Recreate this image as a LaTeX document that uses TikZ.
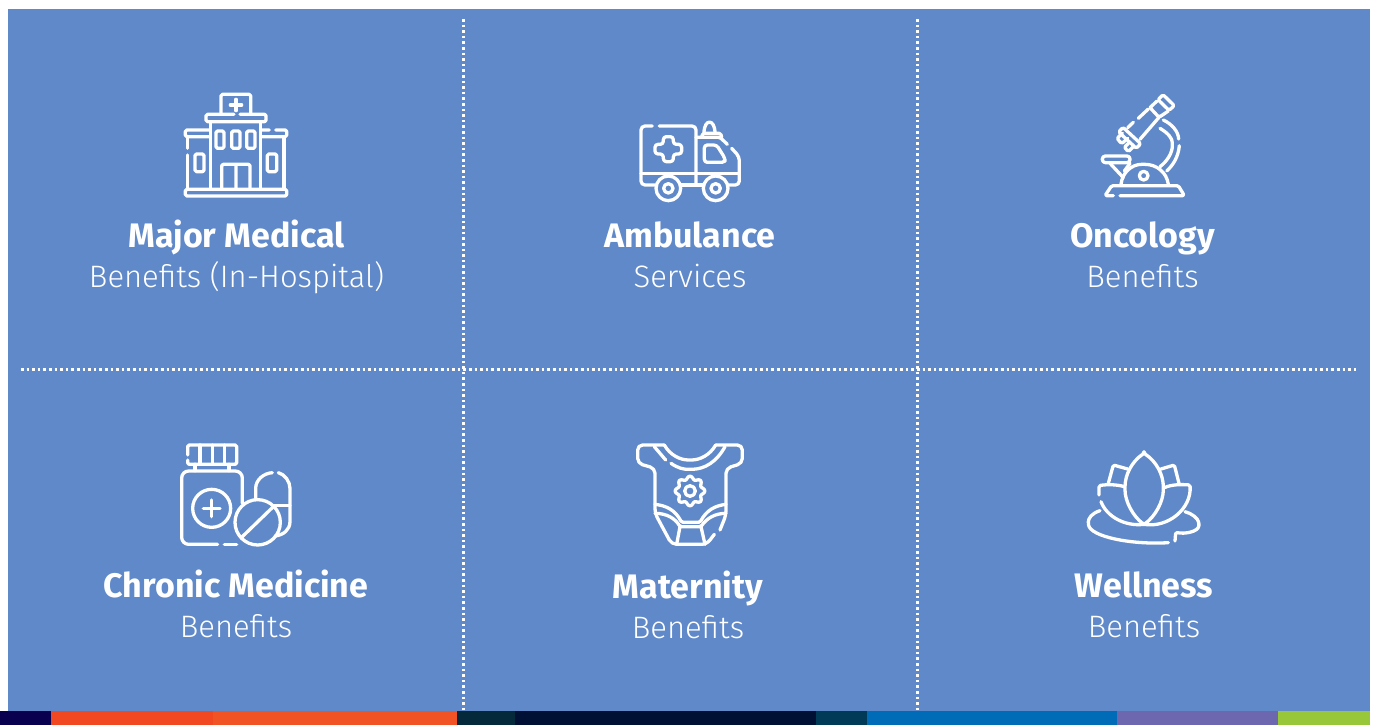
\documentclass[tikz,border=0pt]{standalone}
\usepackage{fontspec}
\setmainfont{Fira Sans}
\newfontfamily\lightf{Fira Sans Light}
\definecolor{bgblue}{HTML}{5F89C8}
\definecolor{s1}{HTML}{0A0050}
\definecolor{s2}{HTML}{F24822}
\definecolor{s3}{HTML}{F25324}
\definecolor{s4}{HTML}{03293B}
\definecolor{s5}{HTML}{001035}
\definecolor{s6}{HTML}{003A57}
\definecolor{s7}{HTML}{006CB8}
\definecolor{s8}{HTML}{6C67AE}
\definecolor{s9}{HTML}{98C83A}
\tikzset{
  x=1pt,y=-1pt,
  ico/.style={draw=white,line width=3.3pt,line cap=round,line join=round,rounded corners=1.5pt},
  dots/.style={draw=white,line width=2.6pt,dash pattern=on 2.6pt off 3pt},
  headtxt/.style={text=white,inner sep=0pt,anchor=base,font=\fontsize{34}{38}\selectfont\bfseries},
  subtxt/.style={text=white,inner sep=0pt,anchor=base,font=\fontsize{31}{36}\selectfont\lightf},
}
\begin{document}
\begin{tikzpicture}
\useasboundingbox (0,0) rectangle (1377,725);
\fill[white] (0,0) rectangle (1377,725);
\fill[bgblue] (8,9) rectangle (1370,711);
% bottom strip
\fill[s1] (0,711) rectangle (51,725);
\fill[s2] (51,711) rectangle (213,725);
\fill[s3] (213,711) rectangle (457,725);
\fill[s4] (457,711) rectangle (515,725);
\fill[s5] (515,711) rectangle (816,725);
\fill[s6] (816,711) rectangle (867,725);
\fill[s7] (867,711) rectangle (1117,725);
\fill[s8] (1117,711) rectangle (1278,725);
\fill[s9] (1278,711) rectangle (1370,725);
% dotted grid
\draw[dots] (463.5,19) -- (463.5,711);
\draw[dots] (917.5,19) -- (917.5,711);
\draw[dots] (21,369.5) -- (1358,369.5);
% labels
\node[headtxt] (h1) at (236.5,247) {Major Medical};
\node[subtxt] (t1) at (236.5,287) {Benefits (In-Hospital)};
\node[headtxt] (h2) at (690,247) {Ambulance};
\node[subtxt] (t2) at (690,287) {Services};
\node[headtxt] (h3) at (1142.5,247) {Oncology};
\node[subtxt] (t3) at (1142.5,287) {Benefits};
\node[headtxt] (h4) at (236,597) {Chronic Medicine};
\node[subtxt] (t4) at (236,637) {Benefits};
\node[headtxt] (h5) at (688,598) {Maternity};
\node[subtxt] (t5) at (688,638) {Benefits};
\node[headtxt] (h6) at (1144,597) {Wellness};
\node[subtxt] (t6) at (1144,637) {Benefits};
% hospital
\begin{scope}[shift={(160,80)},scale=1/3]
\draw[ico] (183,100) -- (183,43) -- (272,43) -- (272,100);
\draw[ico,rounded corners=0pt] (211,75) -- (245,75) (228,58) -- (228,92);
\draw[ico] (222,103) -- (138,103) -- (138,125) -- (318,125) -- (318,103) -- (240,103);
\draw[ico] (152,125) -- (152,328) (302,125) -- (302,328);
\draw[ico] (168,153) rectangle (192,205);
\draw[ico] (215,153) rectangle (240,205);
\draw[ico] (260,153) rectangle (285,205);
\draw[ico] (185,328) -- (185,253) -- (270,253) -- (270,328) (228,253) -- (228,328);
\draw[ico] (150,150) -- (76,150) -- (76,170) -- (150,170);
\draw[ico] (305,170) -- (380,170) -- (380,150) -- (347,150) (328,150) -- (305,150);
\draw[ico] (82,170) -- (82,205) (82,225) -- (82,328);
\draw[ico] (372,170) -- (372,328);
\draw[ico] (105,222) rectangle (132,275);
\draw[ico] (322,222) rectangle (350,275);
\draw[ico] (76,328) rectangle (380,348);
\end{scope}
% ambulance
\begin{scope}[shift={(620,105)},scale=1/3]
\draw[ico,rounded corners=4pt] (97,63) -- (63,63) -- (63,240) -- (105,240);
\draw[ico,rounded corners=4pt] (118,63) -- (228,63) -- (228,240);
\draw[ico] (63,205) -- (358,205);
\draw[ico] (185,240) -- (250,240);
\draw[ico,rounded corners=4pt] (325,240) -- (358,240) -- (358,155) -- (335,130);
\draw[ico] (228,97) -- (300,97) -- (322,118);
\draw[ico] (245,97) -- (248,85) -- (302,85) -- (305,97);
\draw[ico] (252,85) .. controls (252,40) and (285,40) .. (285,85);
\draw[ico,rounded corners=3pt] (253,120) -- (290,120) -- (315,160) -- (315,172) -- (253,172) -- cycle;
\draw[ico] (145,250) circle[radius=37];
\draw[ico] (145,250) circle[radius=14];
\draw[ico] (287,250) circle[radius=37];
\draw[ico] (287,250) circle[radius=14];
\draw[ico,rounded corners=3pt] (130,95) -- (160,95) -- (160,118) -- (185,118) -- (185,147) -- (160,147) -- (160,170) -- (130,170) -- (130,147) -- (105,147) -- (105,118) -- (130,118) -- cycle;
\end{scope}
% microscope
\begin{scope}[shift={(1085,85)},scale=1/3]
\draw[ico] (219,44) -- (234,29) -- (268,62) -- (252,76) -- cycle;
\draw[ico] (195,68) -- (216,48) (250,78) -- (222,97) -- (195,68);
\draw[ico] (190,72) -- (160,100) (145,112) -- (128,128);
\draw[ico] (222,97) -- (165,163);
\draw[ico] (114,127) -- (167,176) -- (154,190) -- (101,141) -- cycle;
\draw[ico] (112,145) -- (96,160) -- (110,176) -- (128,160);
\draw[ico] (130,175) -- (118,187) -- (130,200) -- (143,187);
\draw[ico] (235,105) .. controls (262,118) and (280,140) .. (281,162);
\draw[ico] (283,182) .. controls (280,215) and (265,240) .. (245,258);
\draw[ico] (225,130) .. controls (250,145) and (262,160) .. (262,178) .. controls (262,205) and (245,230) .. (225,245);
\draw[ico] (108,298) .. controls (112,262) and (140,238) .. (175,238) .. controls (215,238) and (245,262) .. (250,298);
\draw[ico] (176,272) circle[radius=13];
\draw[ico] (108,302) -- (80,302) -- (60,332) -- (85,332) (105,332) -- (298,332) -- (280,302) -- (108,302);
\draw[ico,rounded corners=3pt] (52,213) rectangle (135,233);
\draw[ico] (75,235) -- (115,278) (135,235) -- (118,258);
\end{scope}
% chronic medicine
\begin{scope}[shift={(165,435)},scale=1/3]
\draw[ico] (68,60) -- (68,30) -- (215,30) -- (215,88) -- (68,88) -- (68,75);
\draw[ico] (105,30) -- (105,88) (142,30) -- (142,88) (178,30) -- (178,88);
\draw[ico] (90,88) -- (90,107) (192,88) -- (192,107);
\draw[ico,rounded corners=7pt] (232,205) -- (232,108) -- (50,108) -- (50,328) -- (158,328);
\draw[ico] (178,328) -- (215,328);
\draw[ico] (140,220) circle[radius=57];
\draw[ico,rounded corners=0pt] (115,220) -- (165,220) (140,195) -- (140,245);
\draw[ico] (272,190) -- (272,165) .. controls (272,135) and (295,115) .. (322,113);
\draw[ico] (340,113) .. controls (360,118) and (375,140) .. (375,165) -- (375,255) .. controls (375,285) and (355,300) .. (330,303);
\draw[ico] (325,212) -- (375,212);
\draw[ico] (278,262) circle[radius=68];
\draw[ico] (232,305) -- (325,215);
\end{scope}
% maternity
\begin{scope}[shift={(625,435)},scale=1/3]
\draw[ico,rounded corners=5pt] (118,30) -- (38,30) -- (38,85) -- (90,100) -- (90,235) -- (140,328) -- (245,328) -- (268,298);
\draw[ico,rounded corners=5pt] (285,285) -- (303,240) -- (303,100) -- (352,85) -- (352,30) -- (272,30);
\draw[ico] (118,30) .. controls (135,60) and (165,75) .. (195,75) .. controls (225,75) and (255,60) .. (272,30);
\draw[ico] (88,35) -- (122,75);
\draw[ico] (138,85) .. controls (160,100) and (175,103) .. (195,103) .. controls (240,103) and (275,80) .. (300,35);
\draw[ico,rounded corners=0pt] plot[smooth cycle,domain=0:352.5,samples=48] ({195+(40+5*cos(8*\x))*cos(\x)},{168+(40+5*cos(8*\x))*sin(\x)});
\draw[ico] (195,168) circle[radius=16];
\draw[ico] (90,208) .. controls (125,212) and (150,225) .. (170,262) -- (225,262) .. controls (245,225) and (270,212) .. (303,208);
\draw[ico] (90,235) .. controls (125,235) and (150,250) .. (165,275) -- (228,275) .. controls (245,250) and (270,235) .. (303,235);
\draw[ico] (165,275) -- (155,328) (228,275) -- (240,328);
\end{scope}
% lotus
\begin{scope}[shift={(1075,445)},scale=1/3]
\draw[ico] (207,25) .. controls (170,50) and (150,90) .. (150,130) .. controls (150,170) and (175,215) .. (207,238) .. controls (240,215) and (265,170) .. (265,130) .. controls (265,90) and (245,50) .. (207,25) -- cycle;
\draw[ico] (100,115) -- (115,60) -- (158,72);
\draw[ico] (312,115) -- (298,60) -- (258,72);
\draw[ico] (148,125) .. controls (125,118) and (95,118) .. (72,122) -- (72,150);
\draw[ico] (78,170) .. controls (95,215) and (150,245) .. (207,238);
\draw[ico] (268,128) .. controls (290,118) and (320,118) .. (345,120) .. controls (350,190) and (280,250) .. (207,238);
\draw[ico] (75,197) .. controls (50,205) and (40,220) .. (40,235) .. controls (45,275) and (170,300) .. (280,293);
\draw[ico] (300,288) -- (302,262) .. controls (330,268) and (370,260) .. (372,238) .. controls (370,220) and (350,205) .. (330,200);
\end{scope}
\end{tikzpicture}
\end{document}
